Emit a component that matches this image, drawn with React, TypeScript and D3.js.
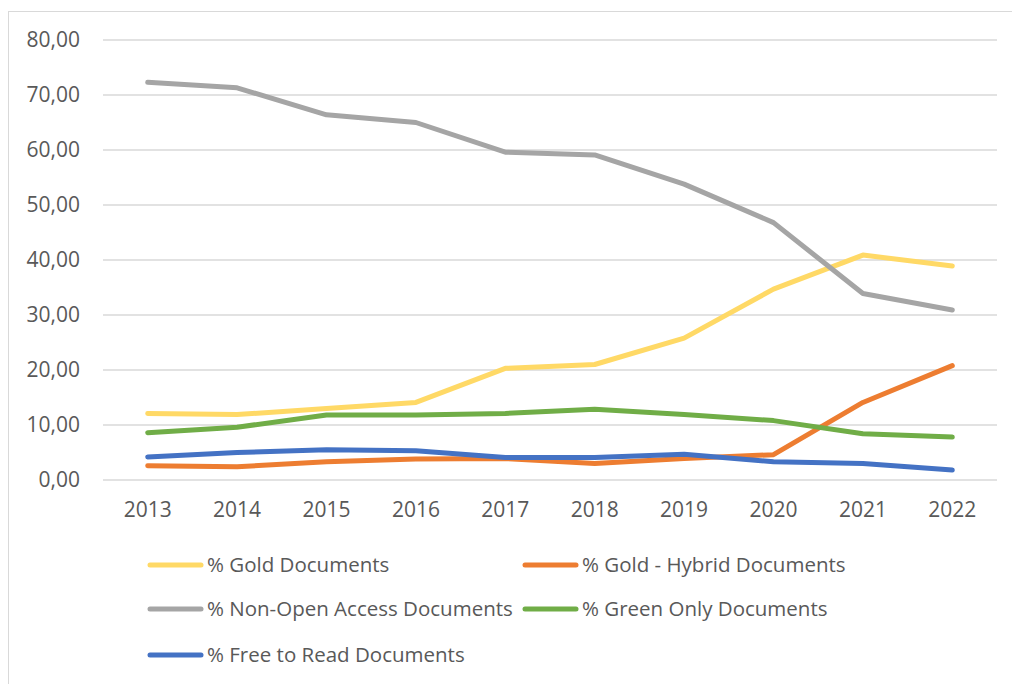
import React from "react";
import * as d3 from "d3";

const years = ["2013", "2014", "2015", "2016", "2017", "2018", "2019", "2020", "2021", "2022"];
const gold = [12.1, 11.9, 13.0, 14.1, 20.3, 21.0, 25.8, 34.7, 40.9, 38.9];
const goldHybrid = [2.6, 2.4, 3.3, 3.8, 3.9, 3.0, 3.9, 4.6, 14.1, 20.8];
const nonOpen = [72.3, 71.3, 66.4, 65.0, 59.6, 59.1, 53.8, 46.8, 33.9, 30.9];
const greenOnly = [8.6, 9.6, 11.8, 11.8, 12.1, 12.85, 11.9, 10.8, 8.4, 7.8];
const freeToRead = [4.2, 5.0, 5.5, 5.3, 4.1, 4.1, 4.7, 3.3, 3.0, 1.8];
const yTicks = [0, 10, 20, 30, 40, 50, 60, 70, 80];

const series = [
  { name: "% Gold Documents", values: gold, color: "#FFD966" },
  { name: "% Gold - Hybrid Documents", values: goldHybrid, color: "#ED7D31" },
  { name: "% Non-Open Access Documents", values: nonOpen, color: "#A5A5A5" },
  { name: "% Green Only Documents", values: greenOnly, color: "#70AD47" },
  { name: "% Free to Read Documents", values: freeToRead, color: "#4472C4" },
];

export default function App() {
  const W = 1012, H = 684;
  const x = d3.scaleBand<string>().domain(years).range([103, 997]);
  const y = d3.scaleLinear().domain([0, 80]).range([480, 40]);
  const line = d3
    .line<number>()
    .x((_, i) => (x(years[i]) as number) + x.bandwidth() / 2)
    .y((d) => y(d));
  const font = "'Open Sans', 'Liberation Sans', sans-serif";
  const legendPos = [
    { lx: 148, ly: 565 },
    { lx: 523, ly: 565 },
    { lx: 148, ly: 609 },
    { lx: 523, ly: 609 },
    { lx: 148, ly: 655 },
  ];
  return (
    <svg width={W} height={H} style={{ position: "absolute", left: 0, top: 0 }} fontFamily={font}>
      <rect x={0} y={0} width={W} height={H} fill="#fff" />
      <rect x={8.5} y={11.5} width={W + 10} height={H + 10} fill="none" stroke="#D9D9D9" strokeWidth={1} />
      {yTicks.map((t) => (
        <g key={t}>
          <line x1={103} x2={997} y1={y(t)} y2={y(t)} stroke="#D9D9D9" strokeWidth={1.3} />
          <text x={80} y={y(t)} dy="0.35em" textAnchor="end" fontSize={21} fill="#595959">
            {d3.format(".2f")(t).replace(".", ",")}
          </text>
        </g>
      ))}
      {years.map((yr) => (
        <text key={yr} x={(x(yr) as number) + x.bandwidth() / 2} y={510} dy="0.35em" textAnchor="middle" fontSize={21} fill="#595959">
          {yr}
        </text>
      ))}
      {series.map((s) => (
        <path key={s.name} d={line(s.values) || ""} fill="none" stroke={s.color} strokeWidth={5} strokeLinejoin="round" strokeLinecap="round" />
      ))}
      {series.map((s, i) => (
        <g key={s.name}>
          <line x1={legendPos[i].lx + 2} x2={legendPos[i].lx + 53} y1={legendPos[i].ly} y2={legendPos[i].ly} stroke={s.color} strokeWidth={5} strokeLinecap="round" />
          <text x={legendPos[i].lx + 59} y={legendPos[i].ly} dy="0.35em" fontSize={20.5} fill="#595959">
            {s.name}
          </text>
        </g>
      ))}
    </svg>
  );
}
